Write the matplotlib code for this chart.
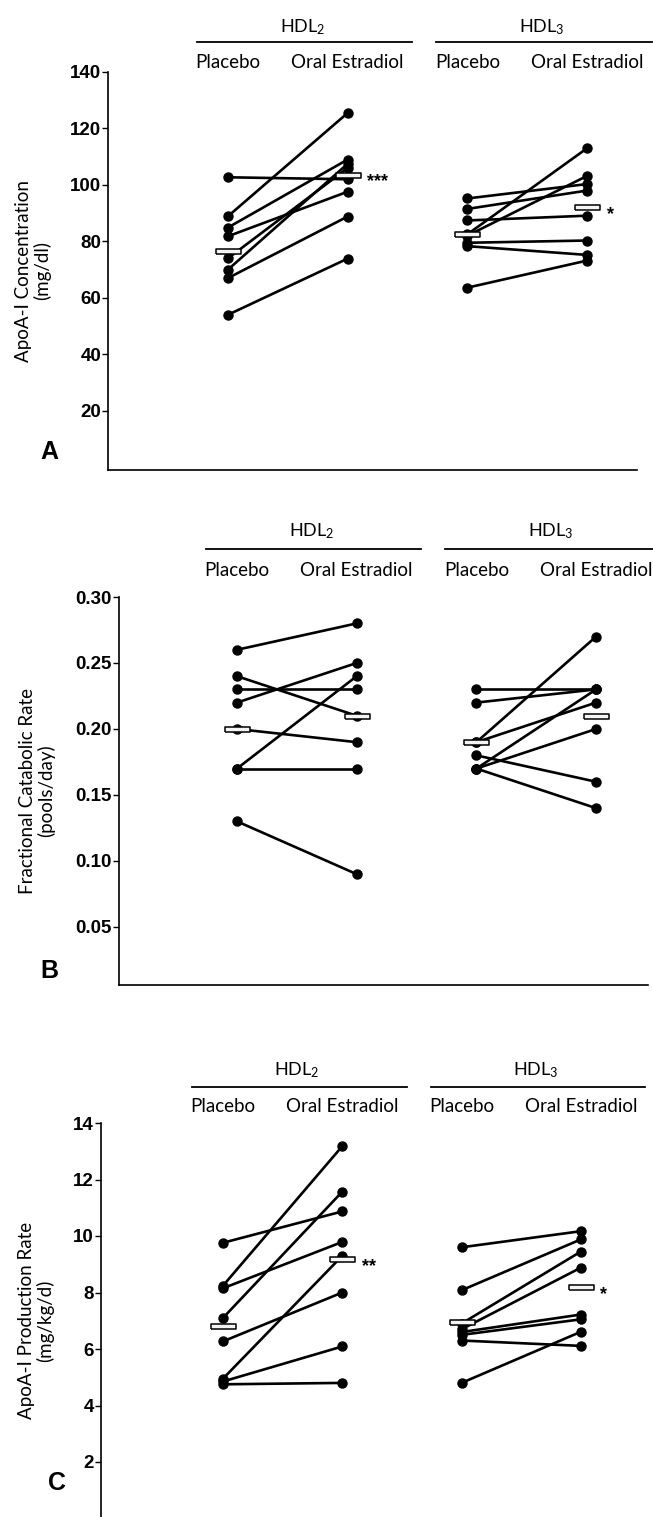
import matplotlib
matplotlib.use("Agg")
import matplotlib.pyplot as plt
from matplotlib.transforms import blended_transform_factory, ScaledTranslation

plt.rcParams['font.family'] = ['Lato', 'DejaVu Sans']
plt.rcParams['mathtext.default'] = 'regular'

# ---------------- data ----------------
groups = ["HDL$_2$", "HDL$_3$"]
treatments = ["Placebo", "Oral Estradiol"]

# Panel A: ApoA-I concentration (mg/dl)
a_hdl2_placebo = [54, 67, 70, 74, 81.8, 84.9, 88.9, 102.7]
a_hdl2_estradiol = [73.9, 88.8, 107.5, 106, 97.6, 109, 125.5, 102]
a_hdl3_placebo = [63.6, 78.3, 79.5, 82, 82.5, 87.4, 91.5, 95.2]
a_hdl3_estradiol = [73.2, 75.2, 80.3, 103.2, 113, 89.1, 98, 100.3]
a_means = [76.5, 103.6, 82.6, 92.1]
a_stars = ["***", "*"]
a_ticks = [20, 40, 60, 80, 100, 120, 140]

# Panel B: fractional catabolic rate (pools/day)
b_hdl2_placebo = [0.13, 0.17, 0.17, 0.20, 0.22, 0.23, 0.24, 0.26]
b_hdl2_estradiol = [0.09, 0.17, 0.24, 0.19, 0.25, 0.23, 0.21, 0.28]
b_hdl3_placebo = [0.17, 0.17, 0.17, 0.18, 0.19, 0.19, 0.22, 0.23]
b_hdl3_estradiol = [0.14, 0.20, 0.23, 0.16, 0.27, 0.22, 0.23, 0.23]
b_means = [0.20, 0.21, 0.19, 0.21]
b_stars = ["", ""]
b_ticks = [0.05, 0.10, 0.15, 0.20, 0.25, 0.30]

# Panel C: ApoA-I production rate (mg/kg/d)
c_hdl2_placebo = [4.75, 4.85, 4.95, 6.27, 7.1, 8.15, 8.24, 9.76]
c_hdl2_estradiol = [4.8, 6.09, 9.3, 8.0, 11.57, 9.79, 13.18, 10.87]
c_hdl3_placebo = [4.8, 6.3, 6.5, 6.6, 6.7, 6.9, 8.08, 9.6]
c_hdl3_estradiol = [6.61, 6.11, 7.05, 7.22, 8.88, 9.45, 9.88, 10.17]
c_means = [6.8, 9.18, 6.94, 8.18]
c_stars = ["**", "*"]
c_ticks = [2, 4, 6, 8, 10, 12, 14]

W, H = 653, 1517
fig = plt.figure(figsize=(W / 100, H / 100), dpi=100)

tick_font = dict(family=['Liberation Sans Narrow', 'Liberation Sans', 'DejaVu Sans'],
                 weight='bold', size=13.5)

bar_marker = [(-1, -0.2), (1, -0.2), (1, 0.2), (-1, 0.2), (-1, -0.2)]
PT = 0.72  # points per pixel at dpi 100


def make_panel(letter, letter_xy, left, right, top, bottom, ylim, c0, sp, series,
               means, stars, ticks, fmt, ylabel, ylabel_x, hdr_off, line_off, lab_off):
    ax = fig.add_axes([left / W, 1 - bottom / H, (right - left) / W, (bottom - top) / H])
    ax.set_ylim(*ylim)
    ax.set_xlim((left - c0) / sp, (right - c0) / sp)
    for s in ['top', 'right']:
        ax.spines[s].set_visible(False)
    ax.spines['left'].set_bounds(ylim[0], ticks[-1])
    for s in ['left', 'bottom']:
        ax.spines[s].set_linewidth(1.2)
    ax.set_xticks([])
    ax.set_yticks(ticks)
    ax.set_yticklabels([fmt.format(t) for t in ticks], fontdict=tick_font)
    ax.tick_params(axis='y', direction='out', length=4, width=1.0, pad=1)

    for g in range(2):
        pla, est = series[2 * g], series[2 * g + 1]
        x0, x1 = 2 * g, 2 * g + 1
        for p, e in zip(pla, est):
            ax.plot([x0, x1], [p, e], color='black', lw=1.9, marker='o',
                    ms=6.5, mfc='black', mec='black', solid_capstyle='round',
                    clip_on=False, zorder=3)
        ax.plot([x0, x1], [means[2 * g], means[2 * g + 1]], ls='none',
                marker=bar_marker, ms=18, mfc='#f4f4f4', mec='black', mew=1.1,
                clip_on=False, zorder=5)
        if stars[g]:
            ax.annotate(stars[g], xy=(x1, means[2 * g + 1]), xytext=(14, -8.5),
                        textcoords='offset points', ha='left', va='baseline',
                        fontsize=13, fontweight='bold',
                        family=['Liberation Sans', 'DejaVu Sans'])

    tr = blended_transform_factory(ax.transData, ax.transAxes)
    for g in range(2):
        xc = 2 * g + 0.62
        ax.annotate(groups[g], xy=(xc, 1), xycoords=tr, xytext=(0, hdr_off * PT),
                    textcoords='offset points', ha='center', va='center',
                    fontsize=13)
        for k in range(2):
            ax.annotate(treatments[k], xy=(2 * g + k, 1), xycoords=tr,
                        xytext=(0, lab_off * PT), textcoords='offset points',
                        ha='center', va='center', fontsize=13.5)
        ln, = ax.plot([2 * g - 0.26, 2 * g + 1.54], [1, 1], color='black', lw=1.3,
                      clip_on=False)
        ln.set_transform(tr + ScaledTranslation(0, line_off / 100, fig.dpi_scale_trans))

    fig.text(ylabel_x / W, 1 - ((top + bottom) / 2) / H, ylabel, rotation=90,
             ha='center', va='center', ma='center', fontsize=13.5, linespacing=1.1)
    fig.text(letter_xy[0] / W, 1 - letter_xy[1] / H, letter,
             fontsize=18, fontweight='bold', family=['Liberation Sans', 'DejaVu Sans'],
             ha='left', va='center')
    return ax


make_panel('A', (40, 452), 108, 637, 72, 470, (-1, 140), 228, 119.7,
           [a_hdl2_placebo, a_hdl2_estradiol, a_hdl3_placebo, a_hdl3_estradiol],
           a_means, a_stars, a_ticks, '{:d}',
           'ApoA-I Concentration\n(mg/dl)', 33, 45, 30, 10)
make_panel('B', (40, 971), 119, 648, 597, 985, (0.006, 0.30), 237, 119.7,
           [b_hdl2_placebo, b_hdl2_estradiol, b_hdl3_placebo, b_hdl3_estradiol],
           b_means, b_stars, b_ticks, '{:.2f}',
           'Fractional Catabolic Rate\n(pools/day)', 37, 66, 48, 27)
make_panel('C', (48, 1483), 101, 637, 1123, 1518.5, (0, 14), 223, 119.3,
           [c_hdl2_placebo, c_hdl2_estradiol, c_hdl3_placebo, c_hdl3_estradiol],
           c_means, c_stars, c_ticks, '{:d}',
           'ApoA-I Production Rate\n(mg/kg/d)', 36, 53, 36, 16)

fig.savefig('out.png', dpi=100, facecolor='white')
